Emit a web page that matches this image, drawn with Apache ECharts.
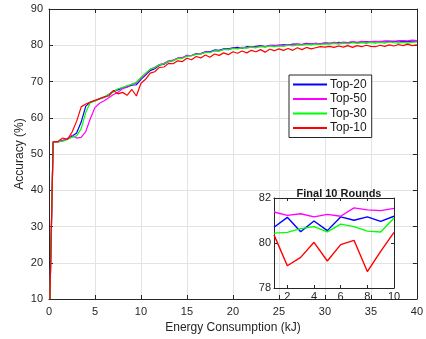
<!DOCTYPE html>
<html>
<head>
<meta charset="utf-8">
<script src="https://cdn.jsdelivr.net/npm/echarts@6/dist/echarts.min.js"></script>
<style>
html,body{margin:0;padding:0;background:#fff;}
#chart{width:426px;height:339px;}
</style>
</head>
<body>
<div id="chart"></div>
<script>
// ---- data ----
const energy = [0.1, 0.45, 1, 1.5, 2, 2.5, 3, 3.5, 4, 4.5, 5, 5.5, 6, 6.5, 7, 7.5, 8, 8.5, 9, 9.5,
  10, 10.5, 11, 11.5, 12, 12.5, 13, 13.5, 14, 14.5, 15, 15.5, 16, 16.5, 17, 17.5, 18, 18.5, 19, 19.5,
  20, 20.5, 21, 21.5, 22, 22.5, 23, 23.5, 24, 24.5, 25, 25.5, 26, 26.5, 27, 27.5, 28, 28.5, 29, 29.5,
  30, 30.5, 31, 31.5, 32, 32.5, 33, 33.5, 34, 34.5, 35, 35.5, 36, 36.5, 37, 37.5, 38, 38.5, 39, 39.5, 40];

const top20 = [10, 53.3, 53.4, 53.7, 54.2, 54.9, 55.8, 58.8, 63.2, 64.3, 64.7, 65.3, 65.6, 66.4, 67.4, 67.7, 68.3, 68.5, 69.0, 69.1,
  70.6, 71.8, 73.0, 73.5, 74.5, 74.8, 75.5, 75.8, 76.4, 76.5, 77.2, 77.1, 77.7, 77.7, 78.2, 78.2, 78.7, 78.6, 79.0, 79.0,
  79.3, 79.4, 79.2, 79.6, 79.5, 79.7, 79.9, 79.6, 80.0, 80.0, 79.9, 80.2, 80.0, 80.3, 80.3, 80.2, 80.5, 80.3, 80.5, 80.4,
  80.6, 80.5, 80.5, 80.8, 80.6, 80.7, 80.9, 80.7, 80.8, 81.0, 80.8, 80.9, 81.1, 80.9, 81.0, 81.1, 80.9, 81.1, 81.0, 81.2, 81.1];

const top50 = [10, 53.2, 53.3, 53.7, 54.3, 55.2, 54.4, 54.6, 56.2, 59.8, 62.8, 64.0, 64.7, 65.5, 66.4, 67.0, 68.0, 68.4, 69.3, 69.5,
  70.9, 72.0, 73.3, 73.9, 74.7, 75.0, 75.7, 75.9, 76.5, 76.6, 77.1, 77.2, 77.6, 77.6, 78.1, 78.0, 78.5, 78.4, 78.9, 78.8,
  79.2, 79.1, 79.4, 79.3, 79.6, 79.5, 79.8, 79.6, 79.9, 79.8, 80.1, 80.0, 80.2, 80.1, 80.3, 80.2, 80.4, 80.3, 80.5, 80.4,
  80.7, 80.5, 80.8, 80.6, 80.9, 80.7, 81.0, 80.8, 81.1, 80.9, 81.0, 81.1, 81.0, 81.2, 81.2, 81.1, 81.3, 81.3, 81.2, 81.4, 81.3];

const top30 = [10, 53.3, 53.4, 53.5, 54.0, 54.6, 55.0, 57.0, 61.5, 64.2, 64.6, 65.2, 65.7, 66.5, 67.1, 68.0, 68.3, 68.9, 69.2, 69.8,
  71.1, 72.3, 73.4, 73.8, 74.6, 74.9, 75.5, 75.7, 76.3, 76.4, 77.0, 77.1, 77.5, 77.6, 78.0, 78.0, 78.5, 78.4, 78.8, 78.8,
  79.1, 79.0, 79.3, 79.2, 79.5, 79.3, 79.6, 79.5, 79.8, 79.6, 79.8, 79.7, 80.0, 79.8, 80.1, 80.0, 80.2, 80.1, 80.3, 80.2,
  80.4, 80.3, 80.5, 80.3, 80.6, 80.4, 80.7, 80.5, 80.7, 80.5, 80.8, 80.6, 80.8, 80.6, 80.9, 80.7, 80.6, 80.8, 80.6, 80.8, 80.9];

const top10 = [10, 53.4, 53.5, 54.4, 54.0, 56.0, 59.0, 63.0, 63.8, 64.3, 64.8, 65.2, 65.8, 66.0, 67.5, 66.6, 67.0, 66.2, 67.8, 66.0,
  69.5, 70.6, 72.3, 72.7, 73.9, 74.0, 75.0, 74.9, 75.7, 75.5, 76.4, 76.0, 76.9, 76.5, 77.3, 76.7, 77.6, 77.2, 77.9, 77.4,
  78.2, 77.8, 78.4, 77.9, 78.6, 78.2, 78.8, 78.1, 78.9, 78.5, 79.0, 78.6, 79.1, 78.6, 79.3, 78.8, 79.4, 79.0, 79.3, 79.6,
  79.5, 79.7, 79.4, 79.8, 79.5, 79.9, 79.4, 79.9, 79.6, 80.0, 79.7, 79.6, 80.0, 79.7, 80.1, 79.8, 80.2, 79.9, 80.3, 79.9, 80.1];

const rounds = [1, 2, 3, 4, 5, 6, 7, 8, 9, 10];
const final20 = [80.70, 81.14, 80.50, 80.98, 80.55, 81.16, 81.01, 81.16, 80.96, 81.19];
const final50 = [81.38, 81.23, 81.30, 81.16, 81.27, 81.19, 81.56, 81.47, 81.44, 81.54];
const final30 = [80.44, 80.47, 80.64, 80.73, 80.49, 80.84, 80.73, 80.53, 80.49, 81.11];
const final10 = [80.36, 78.99, 79.36, 80.03, 79.20, 79.93, 80.12, 78.73, 79.63, 80.47];

const seriesNames = ['Top-20', 'Top-50', 'Top-30', 'Top-10'];
const seriesColors = ['#0000ff', '#ff00ff', '#00ff00', '#ff0000'];
const xTicksMain = {min: 0, max: 40, interval: 5};
const yTicksMain = {min: 10, max: 90, interval: 10};
const insetXLabels = [2, 4, 6, 8, 10];
const insetY = {min: 78, max: 82, interval: 2};

// ---- build ----
const pair = (xs, ys) => xs.map((x, i) => [x, ys[i]]);
const mainData = [top20, top50, top30, top10];
const insetData = [final20, final50, final30, final10];

const AX = '#262626';
const GRID = '#e3e3e3';
const FONT = 'Liberation Sans, Arial, Helvetica, sans-serif';

function boxAxis(base, pos, grid, extra) {
  return Object.assign({
    type: 'value', gridIndex: grid, position: pos,
    axisLine: {show: true, onZero: false, lineStyle: {color: AX, width: 1}},
    axisTick: {show: true, inside: true, length: 4, lineStyle: {color: AX}},
    axisLabel: {show: false},
    splitLine: {show: false}
  }, base, extra || {});
}

const option = {
  animation: false,
  backgroundColor: '#ffffff',
  textStyle: {fontFamily: FONT},
  title: {
    text: 'Final 10 Rounds',
    left: 334, top: 183, textAlign: 'center',
    textStyle: {fontSize: 11, fontWeight: 'bold', color: '#1a1a1a', fontFamily: FONT}
  },
  legend: {
    data: seriesNames,
    orient: 'vertical',
    left: 289, top: 75,
    backgroundColor: '#ffffff',
    borderColor: AX, borderWidth: 1,
    padding: [3, 5, 3, 4],
    itemGap: 1.5,
    itemWidth: 34, itemHeight: 2,
    icon: 'rect',
    textStyle: {fontSize: 12, color: '#1a1a1a', fontFamily: FONT, padding: [0, 0, 0, -2], lineHeight: 13}
  },
  grid: [
    {left: 49, top: 9, right: 4, bottom: 38},
    {left: 274, top: 198, width: 120, height: 90}
  ],
  xAxis: [
    boxAxis(xTicksMain, 'bottom', 0, {
      name: 'Energy Consumption (kJ)', nameLocation: 'middle', nameGap: 23, nameMoveOverlap: false,
      nameTextStyle: {fontSize: 12, color: '#262626', fontFamily: FONT},
      axisLabel: {show: true, fontSize: 11, color: '#262626', margin: 7, fontFamily: FONT},
      splitLine: {show: true, lineStyle: {color: GRID, width: 1}}
    }),
    boxAxis(xTicksMain, 'top', 0),
    boxAxis({min: 1, max: 10}, 'bottom', 1, {
      axisLabel: {show: true, fontSize: 11, color: '#262626', margin: 3, fontFamily: FONT, customValues: insetXLabels},
      axisTick: {show: true, inside: true, length: 3, lineStyle: {color: AX}, customValues: insetXLabels}
    }),
    boxAxis({min: 1, max: 10}, 'top', 1, {
      axisTick: {show: true, inside: true, length: 3, lineStyle: {color: AX}, customValues: insetXLabels}
    })
  ],
  yAxis: [
    boxAxis(yTicksMain, 'left', 0, {
      name: 'Accuracy (%)', nameLocation: 'middle', nameGap: 23, nameRotate: 90, nameMoveOverlap: false,
      nameTextStyle: {fontSize: 12, color: '#262626', fontFamily: FONT},
      axisLabel: {show: true, fontSize: 11, color: '#262626', margin: 6, fontFamily: FONT},
      splitLine: {show: true, lineStyle: {color: GRID, width: 1}}
    }),
    boxAxis(yTicksMain, 'right', 0),
    boxAxis(insetY, 'left', 1, {
      axisLabel: {show: true, fontSize: 11, color: '#262626', margin: 3, fontFamily: FONT},
      axisTick: {show: true, inside: true, length: 3, lineStyle: {color: AX}}
    }),
    boxAxis(insetY, 'right', 1, {
      axisTick: {show: true, inside: true, length: 3, lineStyle: {color: AX}}
    })
  ],
  series: []
};

seriesNames.forEach((name, i) => {
  option.series.push({
    name: name, type: 'line', xAxisIndex: 0, yAxisIndex: 0,
    data: pair(energy, mainData[i]),
    symbol: 'none', clip: true,
    lineStyle: {color: seriesColors[i], width: 1.2},
    itemStyle: {color: seriesColors[i]}
  });
});
seriesNames.forEach((name, i) => {
  option.series.push({
    name: name + ' (final)', type: 'line', xAxisIndex: 2, yAxisIndex: 2,
    data: pair(rounds, insetData[i]),
    symbol: 'none', clip: true,
    lineStyle: {color: seriesColors[i], width: 1.4},
    itemStyle: {color: seriesColors[i]}
  });
});

const chart = echarts.init(document.getElementById('chart'), null, {renderer: 'canvas'});
chart.setOption(option);
</script>
</body>
</html>
